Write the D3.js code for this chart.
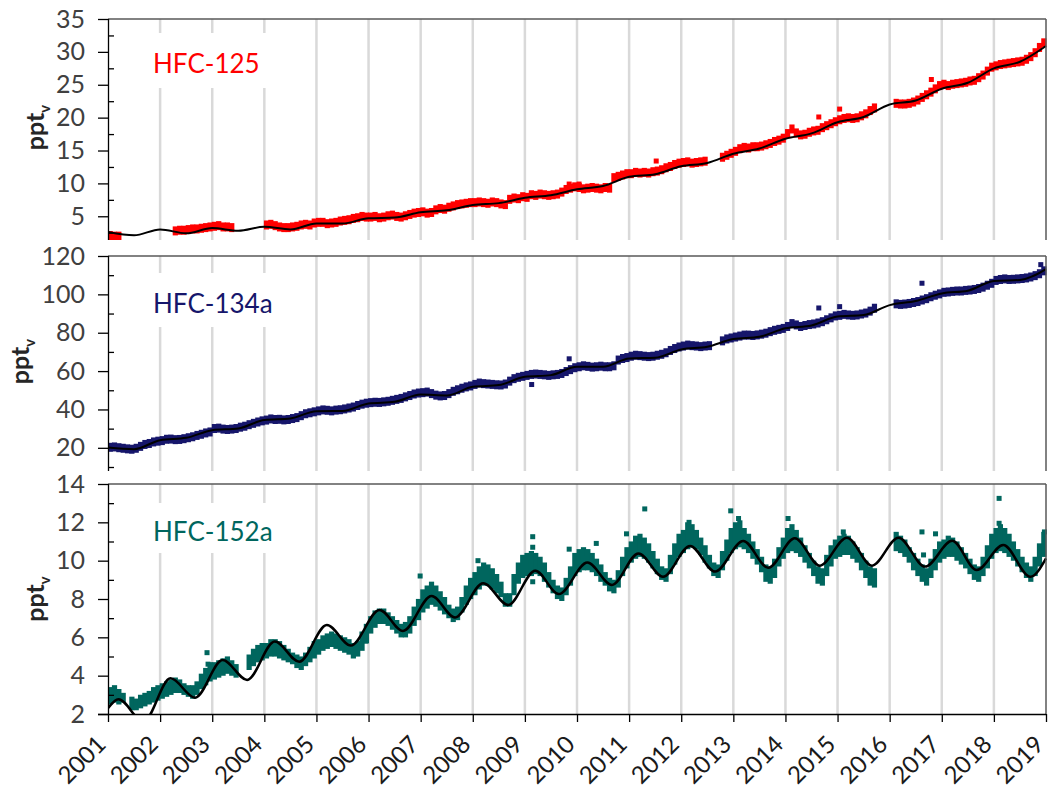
<!DOCTYPE html>
<html lang="en">
<head>
<meta charset="UTF-8">
<title>HFC mixing ratios 2001-2019</title>
<script src="https://d3js.org/d3.v7.min.js"></script>
<style>
  body { margin: 0; background: #fff; }
  text { font-family: Lato, "Open Sans", sans-serif; }
  .axis text { font-size: 25px; fill: #404040; }
  .axis path, .axis line { stroke: #000; stroke-width: 1.3; }
  .minor line { stroke: #000; stroke-width: 1.3; }
  .minor path { display: none; }
  .grid { stroke: #d9d9d9; stroke-width: 2.5; }
  .frame { stroke: #595959; stroke-width: 1.5; }
  .ylabel { font-size: 25px; font-weight: bold; fill: #262626; }
  .name { font-size: 26px; }
</style>
</head>
<body>
<div id="chart"></div>
<script>
// ---- data ----
const yearTicks = [2001, 2002, 2003, 2004, 2005, 2006, 2007, 2008, 2009, 2010,
                   2011, 2012, 2013, 2014, 2015, 2016, 2017, 2018, 2019];

// knot times of the fitted curves for HFC-125 / HFC-134a (half years)
const fitTimes = [2001, 2001.5, 2002, 2002.5, 2003, 2003.5, 2004, 2004.5, 2005, 2005.5,
                  2006, 2006.5, 2007, 2007.5, 2008, 2008.5, 2009, 2009.5, 2010, 2010.5,
                  2011, 2011.5, 2012, 2012.5, 2013, 2013.5, 2014, 2014.5, 2015, 2015.5,
                  2016, 2016.5, 2017, 2017.5, 2018, 2018.5, 2019];

// HFC-125, monthly observations (Jan 2001 .. Dec 2018), ppt
const hfc125Obs = [
  2.0, 1.9, 1.9, null, null, null, null, null, null, null, null, null,
  null, null, null, 2.7, 2.8, 2.8, 2.9, 3.0, 3.0, 3.1, 3.2, 3.3,
  3.4, 3.5, 3.3, 3.3, 3.2, null, null, null, null, null, null, null,
  3.6, 3.7, 3.5, 3.3, 3.2, 3.2, 3.3, 3.4, 3.6, 3.7, 3.6, 3.9,
  4.0, 4.0, 3.8, 3.9, 4.0, 4.2, 4.3, 4.4, 4.6, 4.7, 4.9, 4.8,
  4.8, 4.9, 4.7, 4.8, 5.0, 5.1, 4.9, 4.8, 5.0, 5.2, 5.4, 5.5,
  5.6, 5.4, 5.5, 5.9, 6.1, 6.0, 6.3, 6.5, 6.7, 6.8, 6.9, 7.0,
  7.0, 7.1, 7.0, 6.9, 7.1, 7.0, 6.8, 6.7, 7.5, 7.7, 7.6, 7.9,
  7.8, 8.2, 8.1, 8.3, 8.2, 8.1, 8.2, 8.3, 8.6, 9.0, 9.2, 9.4,
  9.3, 9.1, 9.2, 9.3, 9.2, 9.1, 9.3, 9.2, 10.8, 11.0, 11.2, 11.4,
  11.4, 11.6, 11.5, 11.6, 11.5, 11.7, 11.8, 12.0, 12.3, 12.5, 12.8, 13.0,
  13.1, 13.2, 13.0, 13.1, 13.2, 13.3, null, null, null, 13.9, 14.2, 14.5,
  14.8, 15.2, 15.4, 15.3, 15.5, 15.5, 15.6, 15.8, 16.0, 16.3, 16.5, 16.8,
  17.5, 18.2, 17.6, 17.3, 17.4, 17.7, 17.9, 18.0, 18.4, 18.7, 19.0, 19.3,
  19.6, 19.8, 19.9, 19.8, 19.9, 20.2, 20.5, 21.0, 21.4, null, null, null,
  null, 22.1, 22.0, 22.0, 22.1, 22.3, 22.6, 23.0, 23.4, 23.8, 24.3, 24.8,
  25.0, 24.8, 25.0, 25.1, 25.2, 25.3, 25.5, 25.6, 26.0, 26.4, 27.0, 27.6,
  27.8, 28.0, 28.1, 28.2, 28.3, 28.4, 28.5, 28.8, 29.2, 29.8, 30.6, 31.3
];
const hfc125Outliers = [[2009.85, 9.9], [2010.04, 9.9], [2011.52, 13.4], [2014.64, 20.1], [2015.04, 21.3], [2016.8, 25.8]];
const hfc125Fit = [2.6, 2.1, 3.0, 2.4, 3.2, 2.8, 3.4, 3.0, 3.9, 3.9,
                   4.7, 4.8, 5.6, 5.9, 6.7, 7.0, 7.8, 8.2, 9.1, 9.6,
                   11.0, 11.4, 12.6, 13.1, 14.5, 15.3, 16.8, 17.6, 19.3, 20.1,
                   22.0, 22.6, 24.4, 25.3, 27.5, 28.5, 30.9];

// HFC-134a, monthly observations, ppt
const hfc134aObs = [
  20.0, 20.2, 19.8, 19.5, 19.2, 19.0, 19.5, 20.5, 21.5, 22.0, 22.8, 23.2,
  23.5, 24.2, 24.3, 24.0, 24.1, 24.5, 25.0, 25.5, 26.2, 26.8, 27.5, 28.0,
  29.8, 30.0, 29.5, 29.3, 29.5, 29.8, 30.5, 31.0, 31.8, 32.5, 33.2, 33.8,
  34.2, 34.8, 34.5, 34.6, 34.3, 34.5, 35.0, 35.5, 36.5, 37.5, 38.0, 38.5,
  39.0, 39.5, 39.3, 39.0, 39.4, 39.6, 40.0, 40.5, 41.0, 41.8, 42.5, 43.0,
  43.3, 43.5, 43.4, 43.7, 44.0, 44.5, 45.0, 45.5, 46.3, 47.0, 47.8, 48.3,
  48.5, 48.8, 48.0, 47.2, 46.8, 47.0, 48.0, 49.2, 50.0, 50.8, 51.5, 52.0,
  52.8, 53.5, 53.2, 53.0, 52.8, 52.6, 52.5, 53.0, 54.5, 55.8, 56.5, 57.0,
  57.5, 58.0, 58.2, 58.0, 57.8, 57.5, 57.8, 58.0, 58.5, 59.5, 60.5, 61.5,
  62.0, 62.5, 62.2, 61.8, 62.0, 62.3, 62.0, 62.0, 62.5, 65.5, 66.3, 66.8,
  67.5, 68.0, 67.8, 67.5, 67.3, 67.5, 68.0, 68.5, 69.3, 70.5, 71.5, 72.3,
  72.8, 73.3, 73.0, 72.8, 72.5, 72.8, 73.0, null, null, 75.5, 76.5, 77.0,
  77.5, 78.0, 78.5, 78.5, 78.3, 78.6, 79.0, 79.5, 80.3, 81.0, 81.5, 82.0,
  83.0, 84.5, 83.8, 83.0, 83.5, 84.0, 84.3, 84.8, 85.5, 86.5, 87.5, 88.5,
  88.8, 89.3, 89.0, 88.8, 89.0, 89.5, 90.0, 91.0, 92.5, null, null, null,
  null, 94.8, 94.5, 94.7, 95.0, 95.5, 96.0, 96.8, 97.5, 98.5, 99.3, 100.0,
  100.8, 101.0, 101.3, 101.5, 101.5, 101.8, 102.0, 102.3, 102.8, 103.5, 104.5, 105.5,
  107.0, 107.5, 107.8, 107.5, 107.6, 107.8, 108.0, 108.3, 108.8, 109.5, 110.5, 112.0
];
const hfc134aOutliers = [[2009.13, 53.0], [2009.85, 66.4], [2014.64, 92.9], [2015.04, 93.6], [2016.62, 105.8], [2018.9, 115.5]];
const hfc134aFit = [20.2, 19.3, 24.0, 25.2, 29.2, 30.1, 34.5, 35.3, 39.1, 39.2,
                    43.1, 44.0, 47.8, 47.3, 51.8, 52.7, 57.0, 57.9, 62.3, 62.3,
                    66.6, 67.0, 71.3, 72.7, 76.7, 77.9, 82.3, 83.8, 88.4, 89.2,
                    94.4, 96.5, 100.5, 101.9, 107.0, 107.5, 113.2];

// HFC-152a, monthly spread of observations (low / high), ppt
const hfc152aLow = [
  2.6, 2.7, 2.6, 2.7, null, 2.3, 2.3, 2.4, 2.5, 2.6, 2.7, 2.8,
  2.9, 3.0, 3.1, 3.2, 3.2, 3.1, 3.0, 2.9, 3.1, 3.4, 3.6, 3.8,
  3.9, 4.0, 4.1, 4.2, 4.1, 4.0, null, null, 4.4, 4.6, 4.8, 4.9,
  5.0, 5.1, 5.1, 5.0, 4.9, 4.8, 4.7, 4.5, 4.4, 4.6, 4.8, 5.0,
  5.2, 5.4, 5.5, 5.6, 5.5, 5.4, 5.3, 5.2, 5.0, 5.1, 5.4, 5.8,
  6.3, 6.6, 6.8, 6.8, 6.7, 6.5, 6.3, 6.1, 6.1, 6.3, 6.7, 7.0,
  7.4, 7.6, 7.8, 7.7, 7.5, 7.3, 7.1, 6.9, 7.0, 7.4, 7.8, 8.1,
  8.3, 8.6, 8.8, 8.8, 8.6, 8.4, 8.2, 7.7, 7.7, 8.3, 8.9, 9.2,
  9.3, 9.3, 9.4, 9.3, 9.0, 8.7, 8.4, 8.1, 8.0, 8.3, 8.8, 9.3,
  9.5, 9.6, 9.6, 9.5, 9.3, 9.0, 8.8, 8.5, 8.4, 8.7, 9.3, 9.7,
  10.0, 10.2, 10.3, 10.2, 10.0, 9.7, 9.4, 9.1, 9.0, 9.4, 9.9, 10.3,
  10.5, 10.7, 10.8, 10.7, 10.4, 10.0, 9.7, 9.3, 9.2, 9.6, 10.1, 10.5,
  10.7, 10.8, 10.7, 10.5, 10.2, 9.9, 9.5, 9.0, 8.9, 9.2, 9.8, 10.2,
  10.5, 10.6, 10.5, 10.3, 10.0, 9.7, 9.3, 8.9, 8.8, 9.3, 9.8, 10.2,
  10.3, 10.4, 10.4, 10.2, 10.0, 9.6, 9.2, 8.8, 8.7, null, null, null,
  null, 10.6, 10.5, 10.3, 10.0, 9.6, 9.3, 9.0, 8.8, 9.2, 9.6, 10.0,
  10.2, 10.3, 10.3, 10.1, 9.9, 9.7, 9.4, 9.1, 9.0, 9.3, 9.7, 10.2,
  10.5, 10.6, 10.5, 10.3, 10.1, 9.8, 9.5, 9.2, 9.0, 9.3, 9.8, 10.3
];
const hfc152aHigh = [
  3.3, 3.4, 3.2, 3.0, null, 2.8, 2.7, 2.9, 3.0, 3.1, 3.3, 3.4,
  3.5, 3.6, 3.7, 3.8, 3.7, 3.5, 3.4, 3.4, 3.6, 4.0, 4.3, 4.6,
  4.6, 4.7, 4.8, 4.9, 4.7, 4.5, null, null, 5.0, 5.3, 5.5, 5.6,
  5.6, 5.8, 5.8, 5.7, 5.5, 5.3, 5.1, 5.0, 4.9, 5.1, 5.4, 5.7,
  5.8, 6.0, 6.1, 6.2, 6.1, 6.0, 5.9, 5.8, 5.6, 5.7, 6.2, 6.6,
  7.0, 7.3, 7.4, 7.4, 7.2, 7.0, 6.8, 6.6, 6.7, 7.0, 7.5, 7.9,
  8.4, 8.6, 8.8, 8.6, 8.3, 8.0, 7.6, 7.4, 7.5, 8.0, 8.6, 9.0,
  9.3, 9.6, 9.8, 9.7, 9.5, 9.2, 8.8, 8.2, 8.2, 9.2, 9.8, 10.2,
  10.3, 10.4, 10.3, 10.1, 9.8, 9.3, 8.9, 8.6, 8.5, 9.0, 9.6, 10.3,
  10.5, 10.6, 10.5, 10.3, 10.0, 9.7, 9.3, 9.0, 8.9, 9.4, 10.1, 10.6,
  10.9, 11.2, 11.3, 11.1, 10.8, 10.4, 10.0, 9.6, 9.5, 10.2, 10.8, 11.3,
  11.5, 11.9, 11.8, 11.5, 11.1, 10.7, 10.2, 9.8, 9.7, 10.4, 11.0, 11.6,
  11.9, 12.0, 11.6, 11.3, 10.9, 10.5, 10.1, 9.7, 9.6, 10.0, 10.6, 11.1,
  11.6, 11.8, 11.5, 11.1, 10.7, 10.3, 9.9, 9.6, 9.5, 10.2, 10.7, 11.0,
  11.2, 11.3, 11.2, 10.9, 10.6, 10.3, 9.9, 9.6, 9.5, null, null, null,
  null, 11.4, 11.2, 11.0, 10.6, 10.3, 10.0, 9.7, 9.5, 10.0, 10.5, 10.9,
  11.0, 11.2, 11.1, 10.9, 10.6, 10.3, 10.0, 9.7, 9.6, 10.1, 10.7, 11.3,
  11.6, 11.8, 11.6, 11.3, 10.9, 10.5, 10.1, 9.8, 9.6, 10.1, 10.8, 11.4
];
const hfc152aOutliers = [[2002.9, 5.2], [2002.92, 4.6], [2005.95, 5.8], [2006.99, 9.2], [2008.1, 10.0],
  [2009.15, 11.25], [2009.15, 10.7], [2009.15, 8.9], [2009.85, 10.6], [2010.1, 10.4], [2010.37, 10.9],
  [2010.95, 11.4], [2011.3, 12.7], [2012.15, 12.0], [2012.95, 12.6], [2013.1, 12.2], [2014.05, 12.2],
  [2015.11, 11.5], [2016.62, 11.5], [2016.65, 10.3], [2016.88, 11.4], [2018.1, 13.25], [2018.1, 11.95],
  [2018.97, 11.5]];
// fitted curve, knots at seasonal maxima / minima
const hfc152aFitTimes = [2001.0, 2001.2, 2001.68, 2002.2, 2002.67, 2003.2, 2003.67, 2004.2, 2004.67, 2005.2,
  2005.66, 2006.21, 2006.66, 2007.21, 2007.66, 2008.2, 2008.68, 2009.2, 2009.65, 2010.2,
  2010.67, 2011.18, 2011.65, 2012.17, 2012.65, 2013.19, 2013.67, 2014.18, 2014.66, 2015.18,
  2015.66, 2016.17, 2016.68, 2017.2, 2017.67, 2018.18, 2018.7, 2019.0];
const hfc152aFit = [2.3, 2.77, 1.6, 3.86, 2.85, 4.82, 3.78, 5.78, 4.73, 6.64,
  5.57, 7.43, 6.33, 8.16, 7.04, 8.82, 7.69, 9.48, 8.26, 9.9,
  8.73, 10.38, 9.16, 10.77, 9.43, 11.03, 9.63, 11.17, 9.74, 11.2,
  9.74, 11.2, 9.69, 11.04, 9.51, 10.82, 9.16, 10.12];

// ---- layout ----
const W = 1049, H = 789;
const left = 108, right = 1046;

const svg = d3.select("#chart").append("svg")
    .attr("width", W).attr("height", H);

const x = d3.scaleLinear().domain([2001, 2019]).range([left, right]);
const monthTime = i => 2001 + (i + 0.5) / 12;

const panels = [
  { id: "p125", name: "HFC-125", color: "#ff0000", top: 19, bottom: 236, domain: [2, 35],
    ticks: [5, 10, 15, 20, 25, 30, 35], minor: [2.5, 7.5, 12.5, 17.5, 22.5, 27.5, 32.5],
    box: [33, 88], base: 73, ylabX: 44, pad: 4 },
  { id: "p134a", name: "HFC-134a", color: "#16166b", top: 256, bottom: 467, domain: [10, 120],
    ticks: [20, 40, 60, 80, 100, 120], minor: [10, 30, 50, 70, 90, 110],
    box: [273, 327], base: 313, ylabX: 29, pad: 4 },
  { id: "p152a", name: "HFC-152a", color: "#00665e", top: 484, bottom: 714, domain: [2, 14],
    ticks: [2, 4, 6, 8, 10, 12, 14], minor: [3, 5, 7, 9, 11, 13],
    box: [503, 553], base: 541, ylabX: 44, pad: 0 }
];

panels.forEach((p, k) => {
  const y = d3.scaleLinear().domain(p.domain).range([p.bottom, p.top]);
  const g = svg.append("g");

  g.append("clipPath").attr("id", "clip-" + p.id)
    .append("rect")
    .attr("x", left).attr("y", p.top)
    .attr("width", right - left + 4).attr("height", p.bottom - p.top + p.pad);

  // year gridlines
  g.selectAll(".grid").data(yearTicks.slice(1, -1)).join("line")
    .attr("class", "grid")
    .attr("x1", d => x(d)).attr("x2", d => x(d))
    .attr("y1", p.top).attr("y2", p.bottom + p.pad);

  // compound name with white box over gridlines
  g.append("rect")
    .attr("x", 145).attr("y", p.box[0])
    .attr("width", 140).attr("height", p.box[1] - p.box[0])
    .attr("fill", "#fff");
  g.append("text")
    .attr("class", "name")
    .attr("x", 153).attr("y", p.base)
    .attr("fill", p.color)
    .text(p.name);

  const data = g.append("g").attr("clip-path", `url(#clip-${p.id})`);

  if (k < 2) {
    const obs = k === 0 ? hfc125Obs : hfc134aObs;
    const out = k === 0 ? hfc125Outliers : hfc134aOutliers;
    const pts = obs.map((v, i) => [monthTime(i), v]).filter(d => d[1] !== null);
    data.selectAll(".pt").data(pts).join("rect")
      .attr("x", d => x(d[0]) - 2.6).attr("y", d => y(d[1]) - 5)
      .attr("width", 5.2).attr("height", 9)
      .attr("fill", p.color);
    data.selectAll(".out").data(out).join("rect")
      .attr("x", d => x(d[0]) - 2.5).attr("y", d => y(d[1]) - 2.5)
      .attr("width", 5).attr("height", 5)
      .attr("fill", p.color);
    const fit = k === 0 ? hfc125Fit : hfc134aFit;
    data.append("path")
      .datum(fitTimes.map((t, i) => [t, fit[i]]))
      .attr("fill", "none").attr("stroke", "#000").attr("stroke-width", 2)
      .attr("d", d3.line().x(d => x(d[0])).y(d => y(d[1])).curve(d3.curveMonotoneX));
  } else {
    const spread = hfc152aLow.map((lo, i) => [monthTime(i), lo, hfc152aHigh[i]]).filter(d => d[1] !== null);
    data.selectAll(".band").data(spread).join("rect")
      .attr("x", d => x(d[0]) - 2.6).attr("y", d => y(d[2]) - 2)
      .attr("width", 5.2).attr("height", d => y(d[1]) - y(d[2]) + 4)
      .attr("fill", p.color);
    data.selectAll(".out").data(hfc152aOutliers).join("rect")
      .attr("x", d => x(d[0]) - 2.5).attr("y", d => y(d[1]) - 2.5)
      .attr("width", 5).attr("height", 5)
      .attr("fill", p.color);
    data.append("path")
      .datum(hfc152aFitTimes.map((t, i) => [t, hfc152aFit[i]]))
      .attr("fill", "none").attr("stroke", "#000").attr("stroke-width", 2.5)
      .attr("d", d3.line().x(d => x(d[0])).y(d => y(d[1])).curve(d3.curveMonotoneX));
  }

  // frame: top and right border
  g.append("line").attr("class", "frame")
    .attr("x1", left).attr("x2", right).attr("y1", p.top).attr("y2", p.top);
  g.append("line").attr("class", "frame")
    .attr("x1", right).attr("x2", right).attr("y1", p.top).attr("y2", p.bottom + p.pad);

  // y axis, major ticks outside, minor ticks inside
  g.append("g").attr("class", "axis")
    .attr("transform", `translate(${left},0)`)
    .call(d3.axisLeft(y).tickValues(p.ticks).tickSize(10).tickSizeOuter(0).tickPadding(13))
    .select(".domain").attr("d", `M0.5,${p.top}V${p.bottom + p.pad}`);
  g.append("g").attr("class", "minor")
    .attr("transform", `translate(${left},0)`)
    .call(d3.axisRight(y).tickValues(p.minor).tickSize(6).tickFormat(""));

  g.append("text")
    .attr("class", "ylabel")
    .attr("transform", `translate(${p.ylabX},${(p.top + p.bottom) / 2}) rotate(-90)`)
    .attr("text-anchor", "middle")
    .html('ppt<tspan dy="6" font-size="15">v</tspan>');

  if (k === 2) {
    const xa = g.append("g").attr("class", "axis")
      .attr("transform", `translate(0,${p.bottom})`)
      .call(d3.axisBottom(x).tickValues(yearTicks).tickSize(8).tickSizeOuter(0).tickFormat(d3.format("d")));
    xa.selectAll("text")
      .style("fill", "#1a1a1a")
      .style("font-size", "24px")
      .style("text-anchor", "end")
      .attr("y", 0)
      .attr("dy", "0.35em")
      .attr("transform", "translate(-7,26) rotate(-45)");
    xa.select(".domain").attr("d", `M${left - 10},0.5H${right}`);
  }
});
</script>
</body>
</html>
